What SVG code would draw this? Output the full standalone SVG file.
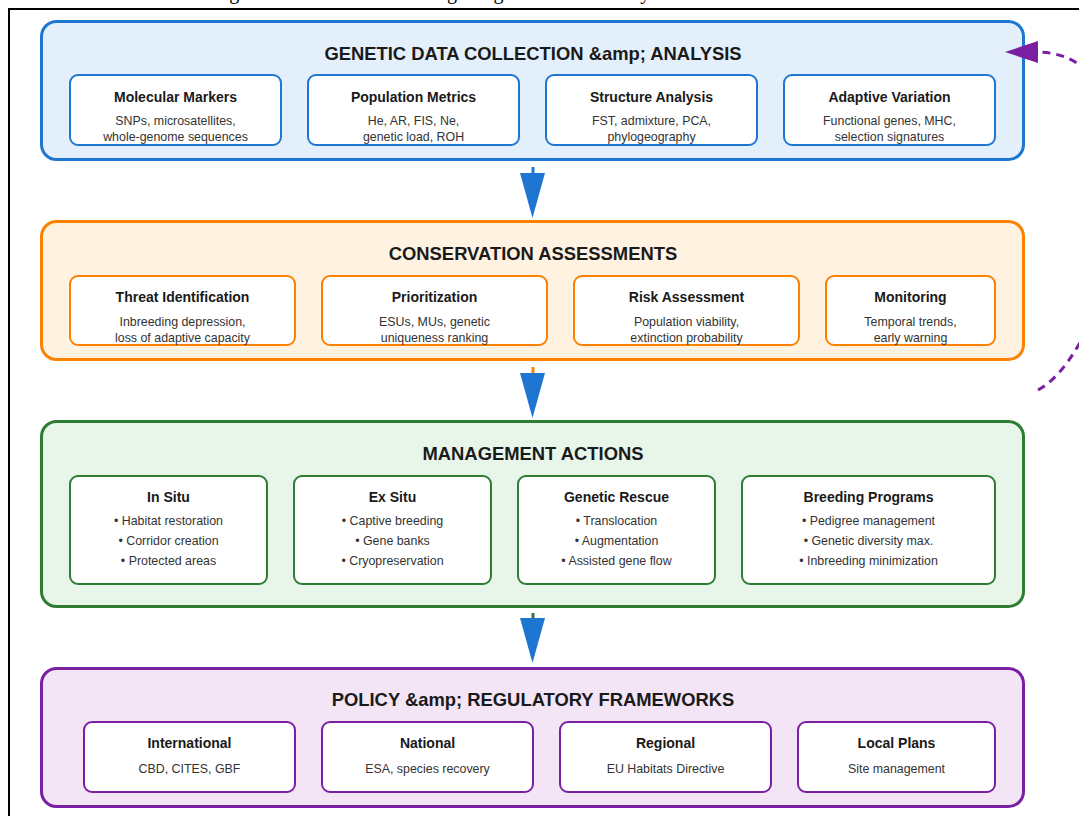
<svg xmlns="http://www.w3.org/2000/svg" width="1079" height="816" viewBox="0 0 1079 816">
  <style>
    .caption { font-family: "Liberation Serif", "Times New Roman", serif; font-size: 20px; fill: #000; }
    .panel { stroke-width: 3; }
    .card { fill: #ffffff; stroke-width: 2; }
    .ptitle { font-family: "Liberation Sans", Arial, sans-serif; font-size: 18.4px; font-weight: bold; fill: #1a1a1a; text-anchor: middle; }
    .ctitle { font-family: "Liberation Sans", Arial, sans-serif; font-size: 14px; font-weight: bold; fill: #1a1a1a; text-anchor: middle; }
    .ctext { font-family: "Liberation Sans", Arial, sans-serif; font-size: 12.4px; fill: #333333; text-anchor: middle; }
    .blue { fill: #e3f0fc; stroke: #1e76d2; }
    .orange { fill: #fff2e1; stroke: #fb8200; }
    .green { fill: #e8f5e9; stroke: #2e7d32; }
    .purple { fill: #f3e5f5; stroke: #7b1fa2; }
    .bcard { stroke: #1e76d2; }
    .ocard { stroke: #fb8200; }
    .gcard { stroke: #2e7d32; }
    .pcard { stroke: #7b1fa2; }
  </style>

  <!-- page background and figure frame -->
  <rect x="0" y="0" width="1079" height="816" fill="#ffffff"/>
  <text class="caption" x="540" y="-1" text-anchor="middle">Figure 3: Framework for Integrating Genetic Diversity into Conservation Practice</text>
  <rect x="9" y="9" width="1100" height="900" fill="#ffffff" stroke="#000000" stroke-width="2"/>

  <!-- Tier 1: genetic data -->
  <g id="tier-genetic-data">
    <rect class="panel blue" x="41.5" y="21.5" width="982" height="138" rx="15"/>
    <text class="ptitle" x="533" y="60">GENETIC DATA COLLECTION &amp;amp; ANALYSIS</text>
  </g>
  <g id="node-molecular-markers">
    <rect class="card bcard" x="70" y="75" width="211" height="70" rx="8"/>
    <text class="ctitle" x="175.5" y="102">Molecular Markers</text>
    <text class="ctext" x="175.5" y="125">SNPs, microsatellites,</text>
    <text class="ctext" x="175.5" y="141">whole-genome sequences</text>
  </g>
  <g id="node-population-metrics">
    <rect class="card bcard" x="308" y="75" width="211" height="70" rx="8"/>
    <text class="ctitle" x="413.5" y="102">Population Metrics</text>
    <text class="ctext" x="413.5" y="125">He, AR, FIS, Ne,</text>
    <text class="ctext" x="413.5" y="141">genetic load, ROH</text>
  </g>
  <g id="node-structure-analysis">
    <rect class="card bcard" x="546" y="75" width="211" height="70" rx="8"/>
    <text class="ctitle" x="651.5" y="102">Structure Analysis</text>
    <text class="ctext" x="651.5" y="125">FST, admixture, PCA,</text>
    <text class="ctext" x="651.5" y="141">phylogeography</text>
  </g>
  <g id="node-adaptive-variation">
    <rect class="card bcard" x="784" y="75" width="211" height="70" rx="8"/>
    <text class="ctitle" x="889.5" y="102">Adaptive Variation</text>
    <text class="ctext" x="889.5" y="125">Functional genes, MHC,</text>
    <text class="ctext" x="889.5" y="141">selection signatures</text>
  </g>

  <!-- Tier 2: assessments -->
  <g id="tier-assessments">
    <rect class="panel orange" x="41.5" y="221.5" width="982" height="138" rx="15"/>
    <text class="ptitle" x="533" y="260">CONSERVATION ASSESSMENTS</text>
  </g>
  <g id="node-threat-identification">
    <rect class="card ocard" x="70" y="276" width="225" height="69" rx="8"/>
    <text class="ctitle" x="182.5" y="302">Threat Identification</text>
    <text class="ctext" x="182.5" y="326">Inbreeding depression,</text>
    <text class="ctext" x="182.5" y="342">loss of adaptive capacity</text>
  </g>
  <g id="node-prioritization">
    <rect class="card ocard" x="322" y="276" width="225" height="69" rx="8"/>
    <text class="ctitle" x="434.5" y="302">Prioritization</text>
    <text class="ctext" x="434.5" y="326">ESUs, MUs, genetic</text>
    <text class="ctext" x="434.5" y="342">uniqueness ranking</text>
  </g>
  <g id="node-risk-assessment">
    <rect class="card ocard" x="574" y="276" width="225" height="69" rx="8"/>
    <text class="ctitle" x="686.5" y="302">Risk Assessment</text>
    <text class="ctext" x="686.5" y="326">Population viability,</text>
    <text class="ctext" x="686.5" y="342">extinction probability</text>
  </g>
  <g id="node-monitoring">
    <rect class="card ocard" x="826" y="276" width="169" height="69" rx="8"/>
    <text class="ctitle" x="910.5" y="302">Monitoring</text>
    <text class="ctext" x="910.5" y="326">Temporal trends,</text>
    <text class="ctext" x="910.5" y="342">early warning</text>
  </g>

  <!-- Tier 3: management -->
  <g id="tier-management">
    <rect class="panel green" x="41.5" y="421.5" width="982" height="185" rx="15"/>
    <text class="ptitle" x="533" y="460">MANAGEMENT ACTIONS</text>
  </g>
  <g id="node-in-situ">
    <rect class="card gcard" x="70" y="476" width="197" height="108" rx="8"/>
    <text class="ctitle" x="168.5" y="502">In Situ</text>
    <text class="ctext" x="168.5" y="525">• Habitat restoration</text>
    <text class="ctext" x="168.5" y="545">• Corridor creation</text>
    <text class="ctext" x="168.5" y="565">• Protected areas</text>
  </g>
  <g id="node-ex-situ">
    <rect class="card gcard" x="294" y="476" width="197" height="108" rx="8"/>
    <text class="ctitle" x="392.5" y="502">Ex Situ</text>
    <text class="ctext" x="392.5" y="525">• Captive breeding</text>
    <text class="ctext" x="392.5" y="545">• Gene banks</text>
    <text class="ctext" x="392.5" y="565">• Cryopreservation</text>
  </g>
  <g id="node-genetic-rescue">
    <rect class="card gcard" x="518" y="476" width="197" height="108" rx="8"/>
    <text class="ctitle" x="616.5" y="502">Genetic Rescue</text>
    <text class="ctext" x="616.5" y="525">• Translocation</text>
    <text class="ctext" x="616.5" y="545">• Augmentation</text>
    <text class="ctext" x="616.5" y="565">• Assisted gene flow</text>
  </g>
  <g id="node-breeding-programs">
    <rect class="card gcard" x="742" y="476" width="253" height="108" rx="8"/>
    <text class="ctitle" x="868.5" y="502">Breeding Programs</text>
    <text class="ctext" x="868.5" y="525">• Pedigree management</text>
    <text class="ctext" x="868.5" y="545">• Genetic diversity max.</text>
    <text class="ctext" x="868.5" y="565">• Inbreeding minimization</text>
  </g>

  <!-- Tier 4: policy -->
  <g id="tier-policy">
    <rect class="panel purple" x="41.5" y="668.5" width="982" height="138" rx="15"/>
    <text class="ptitle" x="533" y="706">POLICY &amp;amp; REGULATORY FRAMEWORKS</text>
  </g>
  <g id="node-international">
    <rect class="card pcard" x="84" y="722" width="211" height="70" rx="8"/>
    <text class="ctitle" x="189.5" y="748">International</text>
    <text class="ctext" x="189.5" y="773">CBD, CITES, GBF</text>
  </g>
  <g id="node-national">
    <rect class="card pcard" x="322" y="722" width="211" height="70" rx="8"/>
    <text class="ctitle" x="427.5" y="748">National</text>
    <text class="ctext" x="427.5" y="773">ESA, species recovery</text>
  </g>
  <g id="node-regional">
    <rect class="card pcard" x="560" y="722" width="211" height="70" rx="8"/>
    <text class="ctitle" x="665.5" y="748">Regional</text>
    <text class="ctext" x="665.5" y="773">EU Habitats Directive</text>
  </g>
  <g id="node-local-plans">
    <rect class="card pcard" x="798" y="722" width="197" height="70" rx="8"/>
    <text class="ctitle" x="896.5" y="748">Local Plans</text>
    <text class="ctext" x="896.5" y="773">Site management</text>
  </g>

  <!-- flow between tiers, plus the feedback loop back to data collection -->
  <g id="connectors">
    <line x1="533" y1="167" x2="533" y2="175" stroke="#1e76d2" stroke-width="3"/>
    <polygon points="520,173 545,173 532.5,218" fill="#1e76d2"/>
    <line x1="533" y1="367" x2="533" y2="375" stroke="#fb8200" stroke-width="3"/>
    <polygon points="520,373 545,373 532.5,418" fill="#1e76d2"/>
    <line x1="533" y1="613" x2="533" y2="620" stroke="#2e7d32" stroke-width="3"/>
    <polygon points="520,618 545,618 532.5,663" fill="#1e76d2"/>
    <path d="M1038,390 C1120,345 1175,52 1036,52" fill="none" stroke="#7b1fa2" stroke-width="3" stroke-dasharray="8,6"/>
    <polygon points="1005,52 1038,41 1038,63" fill="#7b1fa2"/>
  </g>
</svg>
